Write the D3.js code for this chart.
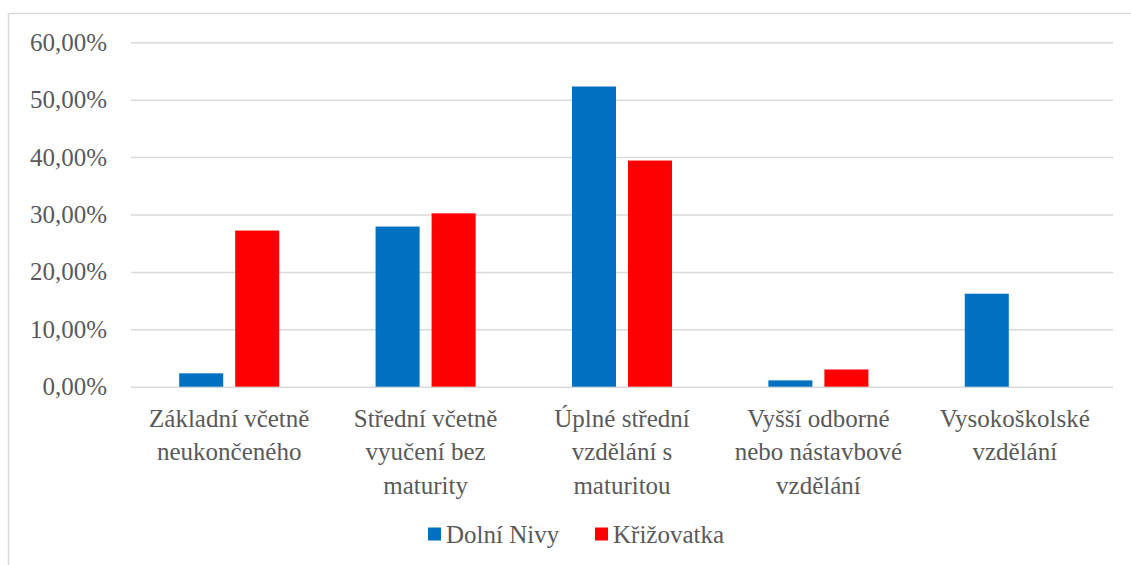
<!DOCTYPE html>
<html>
<head>
<meta charset="utf-8">
<script src="https://cdn.jsdelivr.net/npm/d3@7"></script>
<style>
  html, body { margin: 0; padding: 0; background: #fff; }
  svg { display: block; }
  svg text { font-family: "Liberation Serif", "Times New Roman", Times, "DejaVu Serif", serif; fill: #595959; }
</style>
</head>
<body>
<svg id="chart" width="1131" height="565"></svg>
<script>
// Education level categories (each label split into lines)
const categories = [
  ["Základní včetně", "neukončeného"],
  ["Střední včetně", "vyučení bez", "maturity"],
  ["Úplné střední", "vzdělání s", "maturitou"],
  ["Vyšší odborné", "nebo nástavbové", "vzdělání"],
  ["Vysokoškolské", "vzdělání"]
];
const seriesNames = ["Dolní Nivy", "Křižovatka"];
const dolniNivy = [0.0233, 0.279, 0.523, 0.011, 0.162];
const krizovatka = [0.272, 0.302, 0.394, 0.030, 0.0];
const yTicks = [0, 0.1, 0.2, 0.3, 0.4, 0.5, 0.6];
const colors = ["#0070C0", "#FF0000"];

const FONT = "'Liberation Serif', 'Times New Roman', Times, 'DejaVu Serif', serif";

const seriesValues = [dolniNivy, krizovatka];
const rows = categories.map((c, i) => ({
  key: i,
  label: c,
  values: seriesNames.map((s, j) => ({ series: s, idx: j, value: seriesValues[j][i] }))
}));

const svg = d3.select("#chart");

// outer chart frame
svg.append("rect")
  .attr("x", 8.5).attr("y", 13.5)
  .attr("width", 1200).attr("height", 600)
  .attr("fill", "none").attr("stroke", "#D9D9D9").attr("stroke-width", 1.5);

const plotLeft = 131, plotRight = 1113, plotTop = 42.3, plotBottom = 386.7;

const y = d3.scaleLinear().domain([0, 0.6]).range([plotBottom, plotTop]);
const x0 = d3.scaleBand().domain(rows.map(r => r.key)).range([plotLeft, plotRight]).padding(0);
const x1 = d3.scaleBand().domain(seriesNames).range([0, x0.bandwidth()])
  .paddingInner(0.214).paddingOuter(0.86);

// gridlines + y tick labels
const fmt = v => d3.format(".2f")(v * 100).replace(".", ",") + "%";
const yAxis = d3.axisLeft(y).tickValues(yTicks).tickFormat(fmt)
  .tickSize(-(plotRight - plotLeft)).tickPadding(24);
const gy = svg.append("g").attr("transform", `translate(${plotLeft},0)`).call(yAxis)
  .attr("font-family", FONT);
gy.select(".domain").remove();
gy.selectAll(".tick line").attr("stroke", "#D9D9D9").attr("stroke-width", 1.5);
gy.selectAll(".tick text")
  .attr("font-size", 25).attr("fill", "#595959")
  .style("font-family", FONT);

// bars
const groups = svg.append("g").selectAll("g").data(rows).join("g")
  .attr("transform", d => `translate(${x0(d.key)},0)`);
groups.selectAll("rect").data(d => d.values.filter(v => v.value > 0)).join("rect")
  .attr("x", d => x1(d.series))
  .attr("width", x1.bandwidth())
  .attr("y", d => y(d.value))
  .attr("height", d => y(0) - y(d.value))
  .attr("fill", d => colors[d.idx]);

// category labels
const xAxis = d3.axisBottom(x0).tickSize(0).tickFormat("");
const gx = svg.append("g").attr("transform", `translate(0,${plotBottom})`).call(xAxis)
  .attr("font-family", FONT);
gx.select(".domain").remove();
gx.selectAll(".tick").each(function(d) {
  const t = d3.select(this).append("text")
    .attr("text-anchor", "middle").attr("font-size", 25).attr("fill", "#595959")
    .style("font-family", FONT);
  categories[d].forEach((line, i) => {
    t.append("tspan").attr("x", 0).attr("y", 40 + i * 33.5).text(line);
  });
});

// legend
const legend = svg.append("g");
const legendX = [428, 595];
seriesNames.forEach((s, i) => {
  legend.append("rect").attr("x", legendX[i]).attr("y", 527.5)
    .attr("width", 13).attr("height", 13).attr("fill", colors[i]);
  legend.append("text").attr("x", legendX[i] + 18).attr("y", 543)
    .attr("font-size", 25).style("font-family", FONT).text(s);
});
</script>
</body>
</html>
